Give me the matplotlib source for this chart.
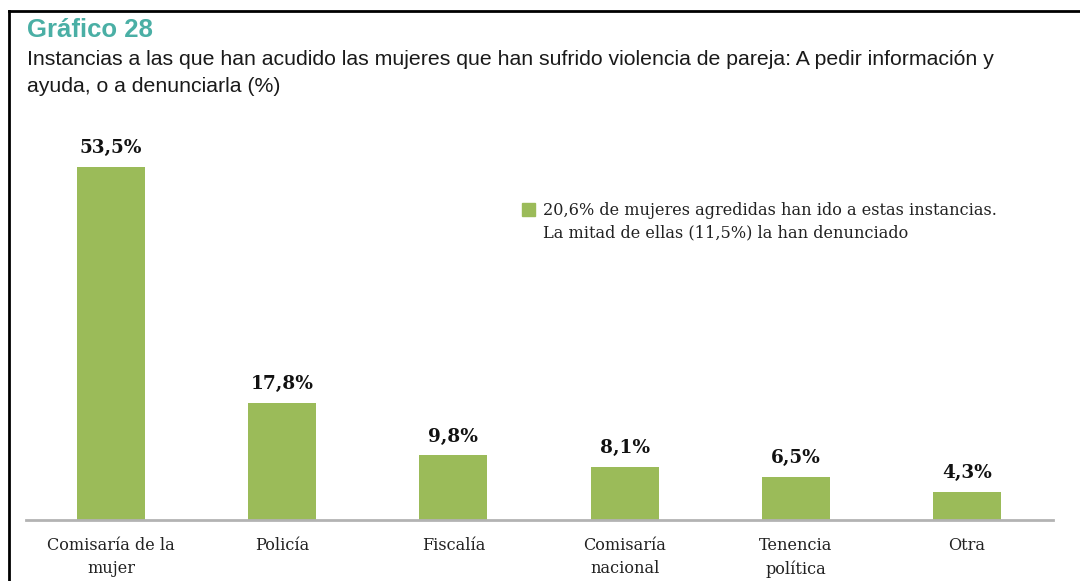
import matplotlib
matplotlib.use("Agg")
import matplotlib.pyplot as plt
from matplotlib.lines import Line2D
from matplotlib.patches import Rectangle

categories = ["Comisaría de la\nmujer", "Policía", "Fiscalía", "Comisaría\nnacional", "Tenencia\npolítica", "Otra"]
values = [53.5, 17.8, 9.8, 8.1, 6.5, 4.3]
value_labels = ["53,5%", "17,8%", "9,8%", "8,1%", "6,5%", "4,3%"]
title = "Gráfico 28"
subtitle_lines = ["Instancias a las que han acudido las mujeres que han sufrido violencia de pareja: A pedir información y",
                  "ayuda, o a denunciarla (%)"]
note_lines = ["20,6% de mujeres agredidas han ido a estas instancias.",
              "La mitad de ellas (11,5%) la han denunciado"]

W, H = 1080, 581
fig = plt.figure(figsize=(W / 100, H / 100), dpi=100)
fig.patch.set_facecolor("white")

def fx(px):
    return px / W

def fy(py):
    return 1 - py / H

bar_color = "#9bbb59"
serif = "DejaVu Serif"

# axes: baseline at y=520, top (53.5) at y=167, x from 26 to 1053
ax = fig.add_axes([fx(26), fy(520), fx(1053) - fx(26), (520 - 167) / H])
x = list(range(len(values)))
ax.bar(x, values, width=0.397, color=bar_color, zorder=2)
ax.set_ylim(0, 53.5)
ax.set_xlim(-0.4965, 5.502)
for s in ["top", "right", "left"]:
    ax.spines[s].set_visible(False)
ax.spines["bottom"].set_color("#b3b3b3")
ax.spines["bottom"].set_linewidth(2)
ax.set_yticks([])
ax.set_xticks(x)
ax.set_xticklabels(categories, fontfamily=serif, fontsize=11.6, color="#222222", linespacing=1.5)
ax.tick_params(axis="x", length=0, pad=12)
ax.patch.set_alpha(0)

for xi, v, lab in zip(x, values, value_labels):
    ax.annotate(lab, (xi, v), xytext=(0, 7), textcoords="offset points",
                ha="center", va="bottom", fontfamily=serif, fontweight="bold",
                fontsize=13.3, color="#111111")

# frame lines
fig.add_artist(Line2D([fx(9), fx(9)], [fy(11), 0], color="black", lw=2.0, transform=fig.transFigure))
fig.add_artist(Line2D([fx(9), 1], [fy(11), fy(11)], color="black", lw=2.0, transform=fig.transFigure))

# title and subtitle
fig.text(fx(27), fy(37), title, fontfamily="Liberation Sans", fontweight="bold", fontsize=18.5,
         color="#4aafa5", ha="left", va="baseline")
for i, line in enumerate(subtitle_lines):
    fig.text(fx(27), fy(65 + 27 * i), line, fontfamily="Liberation Sans", fontsize=15.35,
             color="#1a1a1a", ha="left", va="baseline")

# note with green square
fig.add_artist(Rectangle((fx(522), fy(216)), fx(13), 13 / H, color=bar_color, transform=fig.transFigure))
note_baselines = [215, 237]
for line, by in zip(note_lines, note_baselines):
    fig.text(fx(543), fy(by), line, fontfamily=serif, fontsize=11.6, color="#222222",
             ha="left", va="baseline")

fig.savefig("out.png", dpi=100)
